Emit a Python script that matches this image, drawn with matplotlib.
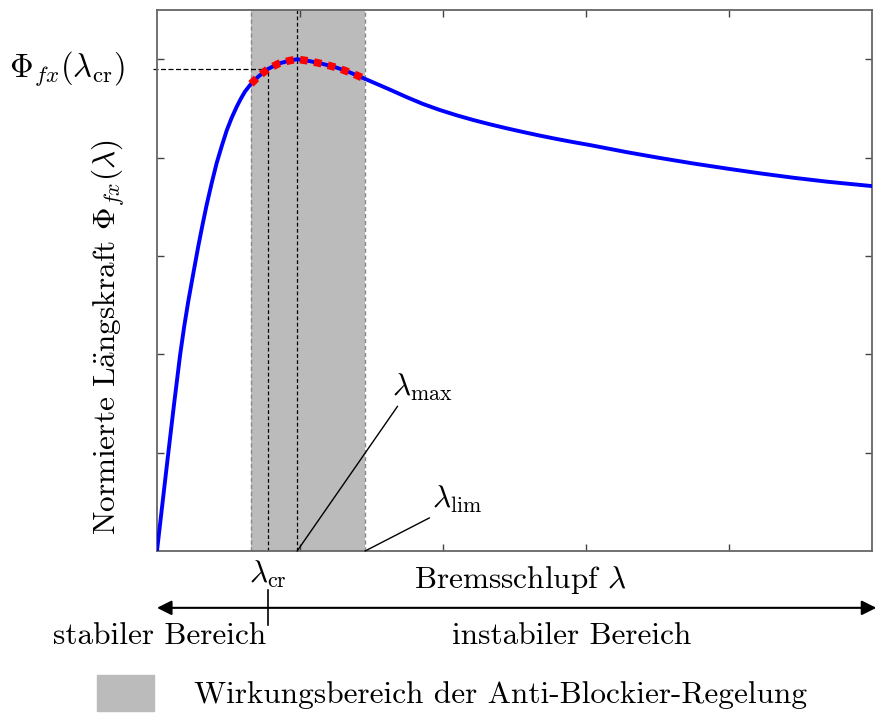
import matplotlib
matplotlib.use('Agg')
import matplotlib.pyplot as plt
import numpy as np
from matplotlib.patches import Patch

plt.rcParams['font.family'] = ['cmr10', 'DejaVu Serif']
plt.rcParams['mathtext.fontset'] = 'cm'
plt.rcParams['axes.unicode_minus'] = False

# Reifenkennlinie: Bremsschlupf -> normierte Laengskraft
lam = [0.0, 0.008, 0.0158, 0.024, 0.0322, 0.038, 0.0438, 0.050, 0.0578, 0.0635,
       0.0695, 0.0765, 0.0835, 0.0905, 0.0975, 0.1045, 0.1114, 0.117, 0.123, 0.1315,
       0.142, 0.155, 0.17, 0.185, 0.196, 0.214, 0.233, 0.251, 0.270, 0.291,
       0.307, 0.326, 0.349, 0.372, 0.395, 0.419, 0.442, 0.466, 0.489, 0.512,
       0.535, 0.559, 0.582, 0.606, 0.657, 0.70, 0.75, 0.80, 0.843, 0.89,
       0.937, 1.0]
phi = [0.0, 0.101, 0.199, 0.300, 0.397, 0.456, 0.508, 0.558, 0.620, 0.662,
       0.704, 0.748, 0.789, 0.823, 0.855, 0.881, 0.903, 0.919, 0.934, 0.950,
       0.965, 0.980, 0.991, 0.997, 1.0, 0.996, 0.990, 0.983, 0.973, 0.960,
       0.950, 0.938, 0.923, 0.909, 0.897, 0.886, 0.8765, 0.8675, 0.8595, 0.852,
       0.8448, 0.8378, 0.8315, 0.8253, 0.811, 0.800, 0.788, 0.777, 0.768, 0.759,
       0.751, 0.742]

lam_low = 0.1315  # linke Grenze ABS-Bereich
lam_cr = 0.155
lam_max = 0.196
lam_lim = 0.291
phi_cr = 0.98

xticks = [0.2, 0.4, 0.6, 0.8]
yticks = [0.2, 0.4, 0.6, 0.8, 1.0]

span_color = '#bbbbbb'
fs = 22.5

fig = plt.figure(figsize=(8.75, 7.16), dpi=100)
ax = fig.add_axes([0.1794, 0.2304, 0.8172, 0.7556])

ax.axvspan(lam_low, lam_lim, color=span_color, lw=0, zorder=0)
ax.axvline(lam_low, color='#888888', ls=(0, (3, 2)), lw=1, zorder=1)
ax.axvline(lam_lim, color='#888888', ls=(0, (3, 2)), lw=1, zorder=1)
ax.axvline(lam_max, color='black', ls=(0, (3, 2)), lw=0.9, zorder=1)
ax.plot([lam_cr, lam_cr], [0, phi_cr], color='black', ls=(0, (3, 2)), lw=0.9, zorder=1)
ax.plot([-0.005, lam_cr], [phi_cr, phi_cr], color='black', ls=(0, (4, 2)), lw=0.9,
        zorder=1, clip_on=False)

lam_a = np.array(lam)
phi_a = np.array(phi)
ax.plot(lam_a, phi_a, color='#0000ff', lw=2.8, zorder=3)
mask = (lam_a >= lam_low) & (lam_a <= lam_lim)
ax.plot(lam_a[mask], phi_a[mask], color='red', lw=5.5, ls=(0, (1, 0.85)), zorder=4)

ax.set_xlim(0, 1)
ax.set_ylim(0, 1.1)
ax.set_xticks(xticks)
ax.set_yticks(yticks)
ax.tick_params(direction='in', length=5, width=1, color='#444444',
               top=True, right=True, labelbottom=False, labelleft=False)
for s in ax.spines.values():
    s.set_color('#666666')
    s.set_linewidth(1.3)

ax.set_ylabel(r'Normierte L$\ddot{\mathrm{a}}$ngskraft $\Phi_{fx}(\lambda)$',
              fontsize=fs)
ax.yaxis.set_label_coords(-0.042, 0.396)
ax.text(-0.045, phi_cr, r'$\Phi_{fx}(\lambda_{\rm cr})$', fontsize=23.5,
        ha='right', va='center', clip_on=False)

ax.annotate(r'$\lambda_{\max}$', xy=(lam_max, 0), xytext=(0.329, 0.30),
            fontsize=fs, ha='left', va='bottom',
            arrowprops=dict(arrowstyle='-', lw=1, color='black', shrinkA=0, shrinkB=0,
                            relpos=(0.12, 0)))
ax.annotate(r'$\lambda_{\rm lim}$', xy=(lam_lim, 0), xytext=(0.385, 0.073),
            fontsize=fs, ha='left', va='bottom',
            arrowprops=dict(arrowstyle='-', lw=1, color='black', shrinkA=0, shrinkB=0,
                            relpos=(0.05, 0)))

tr = ax.get_xaxis_transform()
ax.text(lam_cr, -0.044, r'$\lambda_{\rm cr}$', fontsize=fs, ha='center', va='center',
        transform=tr)
ax.text(0.508, -0.054, r'Bremsschlupf $\lambda$', fontsize=fs, ha='center',
        va='center', transform=tr)
ax.annotate('', xy=(0, -0.105), xytext=(1.006, -0.105), xycoords=tr, textcoords=tr,
            arrowprops=dict(arrowstyle='<|-|>', color='black', lw=1.5,
                            mutation_scale=22, shrinkA=0, shrinkB=0))
ax.plot([lam_cr, lam_cr], [-0.072, -0.137], color='black', lw=1.2, transform=tr,
        clip_on=False)
ax.text(0.004, -0.157, 'stabiler Bereich', fontsize=fs, ha='center', va='center',
        transform=tr)
ax.text(0.58, -0.157, 'instabiler Bereich', fontsize=fs, ha='center', va='center',
        transform=tr)

fig.legend(handles=[Patch(color=span_color)],
           labels=['Wirkungsbereich der Anti-Blockier-Regelung'],
           loc='center', bbox_to_anchor=(0.517, 0.032), frameon=False, fontsize=fs,
           handlelength=1.8, handleheight=1.4, handletextpad=1.3)

fig.savefig('out.png', dpi=100)
